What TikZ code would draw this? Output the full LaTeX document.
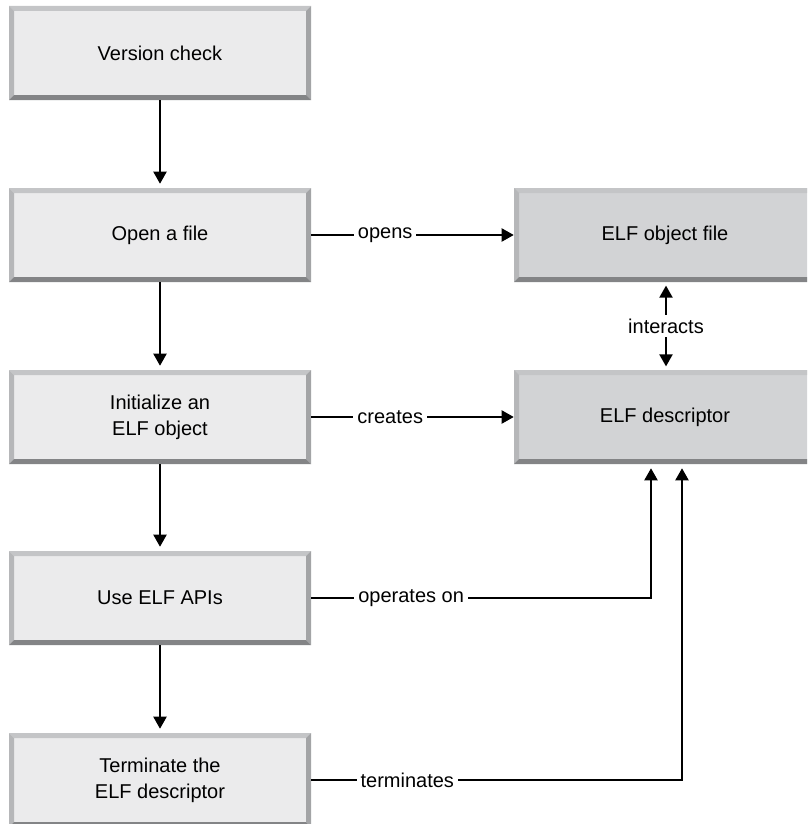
\documentclass[tikz,border=0pt]{standalone}
\usepackage{fontspec}
\setmainfont{Liberation Sans}
\usetikzlibrary{arrows.meta}

\definecolor{steplight}{HTML}{EBEBEC}
\definecolor{stepdark}{HTML}{D2D3D5}
\definecolor{edgetop}{HTML}{C4C5C7}
\definecolor{edgeleft}{HTML}{B6B7B9}
\definecolor{edgeright}{HTML}{A3A4A6}
\definecolor{edgebottom}{HTML}{838486}

\begin{document}
\begin{tikzpicture}[x=0.75pt,y=-0.75pt,
    >={Triangle[width=9.75pt,length=9pt]},
    every node/.style={font=\fontsize{15}{19.5}\selectfont},
    bevel/.style={path picture={
      \path (path picture bounding box.north west) coordinate (bnw)
            (path picture bounding box.north east) coordinate (bne)
            (path picture bounding box.south west) coordinate (bsw)
            (path picture bounding box.south east) coordinate (bse);
      \fill[edgetop] (bnw) -- (bne) -- ([shift={(-3.75pt,-3.75pt)}]bne) -- ([shift={(3.75pt,-3.75pt)}]bnw) -- cycle;
      \fill[edgeleft] (bnw) -- ([shift={(3.75pt,-3.75pt)}]bnw) -- ([shift={(3.75pt,3.75pt)}]bsw) -- (bsw) -- cycle;
      \fill[edgeright] (bne) -- (bse) -- ([shift={(-3.75pt,3.75pt)}]bse) -- ([shift={(-3.75pt,-3.75pt)}]bne) -- cycle;
      \fill[edgebottom] (bsw) -- (bse) -- ([shift={(-3.75pt,3.75pt)}]bse) -- ([shift={(3.75pt,3.75pt)}]bsw) -- cycle;
    }},
    stepbox/.style={bevel,fill=steplight,minimum width=226.5pt,minimum height=70.5pt,
      inner sep=0pt,align=center},
    elfbox/.style={stepbox,fill=stepdark},
    flow/.style={line width=1.5pt,->},
    tag/.style={fill=white,inner sep=3pt}]
    \useasboundingbox (0,0) rectangle (807,824);
    \clip (0,0) rectangle (807,824);

    % steps on the left
    \node[stepbox] (version) at (160,53) {Version check};
    \node[stepbox] (open) at (160,235) {Open a file};
    \node[stepbox] (init) at (160,417) {Initialize an\\ELF object};
    \node[stepbox] (use) at (160,598) {Use ELF APIs};
    \node[stepbox] (term) at (160,780) {Terminate the\\ELF descriptor};

    % ELF things on the right
    \node[elfbox] (objfile) at (665,235) {ELF object file};
    \node[elfbox] (desc) at (665,417) {ELF descriptor};

    \draw[flow,shorten >=3pt] (version) -- (open);
    \draw[flow,shorten >=3pt] (open) -- (init);
    \draw[flow,shorten >=3pt] (init) -- (use);
    \draw[flow,shorten >=3pt] (use) -- (term);

    \draw[flow] (open.east) -- node[tag,pos=0.365] (opens) {opens} (objfile.west);
    \draw[flow] (init.east) -- node[tag,pos=0.39] (creates) {creates} (desc.west);
    \draw[flow,<->,shorten <=2.5pt,shorten >=2.5pt]
      ([xshift=0.75pt]objfile.south) -- node[tag] (interacts) {interacts} ([xshift=0.75pt]desc.north);

    \coordinate (opturn) at (651,598);
    \coordinate (termturn) at (682,780);
    \draw[flow,shorten >=3pt] (use.east) -- node[tag,pos=0.294] (operates) {operates on} (opturn) -- (opturn |- desc.south);
    \draw[flow,shorten >=3pt] (term.east) -- node[tag,pos=0.259] (terminates) {terminates} (termturn) -- (termturn |- desc.south);
  \end{tikzpicture}
\end{document}
